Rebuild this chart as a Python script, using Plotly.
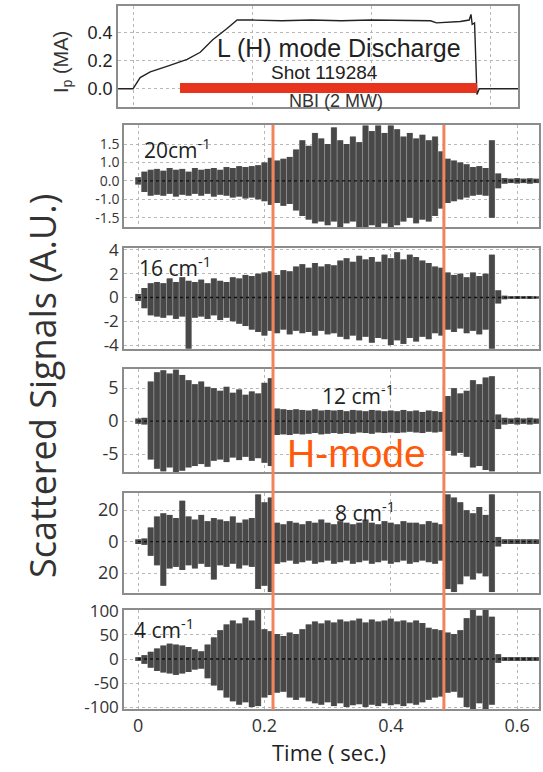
import plotly.graph_objects as go

# ---------------- data ----------------
TIME = [0.00, 0.01, 0.02, 0.03, 0.04, 0.05, 0.06, 0.07, 0.08, 0.09,
        0.10, 0.11, 0.12, 0.13, 0.14, 0.15, 0.16, 0.17, 0.18, 0.19,
        0.20, 0.21, 0.22, 0.23, 0.24, 0.25, 0.26, 0.27, 0.28, 0.29,
        0.30, 0.31, 0.32, 0.33, 0.34, 0.35, 0.36, 0.37, 0.38, 0.39,
        0.40, 0.41, 0.42, 0.43, 0.44, 0.45, 0.46, 0.47, 0.48, 0.49,
        0.50, 0.51, 0.52, 0.53, 0.54, 0.55, 0.56, 0.57, 0.58, 0.59,
        0.60, 0.61, 0.62, 0.63]

# plasma current (MA)
IP_T = [-0.025, 0.0, 0.012, 0.029, 0.057, 0.091, 0.113, 0.134, 0.158, 0.175,
        0.20, 0.25, 0.30, 0.35, 0.40, 0.45, 0.50, 0.51, 0.53, 0.55,
        0.565, 0.568, 0.570, 0.574, 0.578, 0.582, 0.60, 0.647]
IP_V = [0.0, 0.0, 0.08, 0.12, 0.16, 0.21, 0.26, 0.35, 0.43, 0.49,
        0.49, 0.485, 0.49, 0.485, 0.49, 0.485, 0.485, 0.47, 0.475, 0.48,
        0.49, 0.53, 0.46, 0.47, -0.04, 0.0, 0.0, 0.0]
NBI_T = [0.079, 0.578]
NBI_V = [0.005, 0.005]

# scattered signal envelopes (upper / lower), one value per TIME
K20_UP = [0.2, 0.5, 0.6, 0.65, 0.55, 0.7, 0.6, 0.65, 0.5, 0.7,
          0.6, 0.65, 0.7, 0.6, 0.75, 0.7, 0.8, 0.75, 0.8, 0.85,
          1.0, 1.25, 1.1, 1.2, 1.3, 1.7, 2.2, 1.9, 2.6, 2.3,
          2.0, 2.9, 2.2, 2.0, 2.4, 2.1, 3.0, 2.7, 3.0, 2.6,
          3.0, 2.8, 2.4, 2.6, 2.3, 2.5, 2.2, 2.4, 1.6, 1.2,
          1.1, 1.0, 0.9, 0.75, 0.8, 0.7, 2.2, 0.4, 0.15, 0.12,
          0.15, 0.12, 0.14, 0.12]
K20_LO = [-0.2, -0.6, -0.8, -0.75, -0.8, -0.7, -0.85, -0.75, -0.8, -0.7,
          -0.8, -0.7, -0.85, -0.75, -0.8, -0.9, -0.85, -0.95, -0.9, -1.0,
          -1.1, -1.3, -1.2, -1.35, -1.25, -1.6, -1.9, -2.1, -2.3, -2.2,
          -2.4, -2.2, -2.5, -2.3, -2.2, -2.5, -2.5, -2.4, -2.5, -2.3,
          -2.5, -2.4, -2.2, -2.0, -2.3, -2.1, -2.2, -1.9, -1.5, -1.2,
          -1.1, -1.0, -0.9, -0.8, -0.75, -0.8, -2.0, -0.4, -0.15, -0.12,
          -0.14, -0.12, -0.15, -0.12]

K16_UP = [0.3, 0.8, 1.2, 1.3, 1.2, 1.6, 1.3, 1.7, 1.4, 1.3,
          1.5, 1.2, 1.6, 1.4, 1.3, 1.7, 1.6, 1.9, 1.8, 2.0,
          2.1, 2.2, 1.9, 2.3, 2.2, 2.6, 2.8, 2.5, 2.9, 2.6,
          2.8, 2.7, 3.1, 3.3, 3.0, 3.5, 3.2, 3.4, 3.0, 3.6,
          3.3, 3.8, 3.2, 3.6, 3.4, 3.1, 2.9, 2.6, 2.5, 2.1,
          1.9, 2.0, 1.7, 2.1, 1.8, 2.0, 3.6, 0.6, 0.15, 0.1,
          0.12, 0.1, 0.12, 0.1]
K16_LO = [-0.3, -0.9, -1.5, -1.6, -1.7, -1.5, -1.8, -1.6, -4.3, -1.7,
          -1.6, -1.8, -1.5, -1.9, -1.7, -2.0, -2.2, -2.4, -2.7, -2.9,
          -3.2, -2.8, -3.0, -2.7, -3.1, -2.8, -3.0, -2.9, -3.2, -2.8,
          -3.1, -3.0, -3.3, -3.5, -3.2, -3.6, -3.3, -3.8, -3.4, -3.5,
          -4.0, -3.6, -3.9, -3.4, -3.7, -3.3, -3.5, -3.0, -3.2, -2.7,
          -2.9, -2.6, -3.0, -2.8, -3.1, -2.7, -4.3, -0.5, -0.15, -0.1,
          -0.12, -0.1, -0.12, -0.1]

K12_UP = [0.4, 0.5, 6.0, 7.4, 7.7, 7.2, 7.8, 7.0, 6.2, 5.6,
          6.0, 5.2, 5.0, 4.6, 5.2, 4.3, 4.8, 4.0, 4.5, 4.2,
          5.8, 6.5, 1.9, 1.8, 1.7, 1.8, 1.7, 1.6, 1.8, 1.6,
          1.7, 1.6, 1.7, 1.5, 1.7, 1.6, 1.5, 1.7, 1.6, 1.5,
          1.6, 1.5, 1.7, 1.5, 1.6, 1.4, 1.6, 1.5, 1.4, 3.8,
          5.0, 4.2, 4.6, 6.2, 5.6, 6.6, 6.8, 1.0, 0.5, 0.4,
          0.5, 0.4, 0.5, 0.4]
K12_LO = [-0.4, -0.5, -5.8, -7.2, -7.6, -7.0, -7.7, -7.5, -7.0, -6.8,
          -6.5, -6.9, -6.0, -5.8, -6.2, -5.5, -5.9, -5.4, -6.0, -5.6,
          -6.3, -6.8, -2.1, -2.0, -2.1, -1.9, -2.0, -1.9, -1.8, -2.0,
          -1.9, -1.8, -1.9, -1.8, -1.9, -1.7, -1.8, -1.9, -1.7, -1.8,
          -1.7, -1.8, -1.7, -1.6, -1.7, -1.8, -1.6, -1.7, -1.6, -4.5,
          -5.2, -4.8, -5.4, -7.0, -6.8, -7.4, -7.6, -1.2, -0.5, -0.4,
          -0.5, -0.4, -0.5, -0.4]

K8_UP = [1.5, 2, 9, 16, 18, 17, 15, 26, 16, 14,
         17, 13, 15, 14, 13, 16, 12, 14, 15, 30,
         25, 28, 12, 11, 13, 12, 11, 13, 12, 14,
         12, 11, 13, 12, 11, 12, 14, 12, 11, 13,
         12, 11, 13, 12, 12, 11, 13, 12, 11, 30,
         28, 25, 20, 18, 22, 17, 30, 3, 1.5, 1.5,
         1.5, 1.5, 1.5, 1.5]
K8_LO = [-1.5, -2, -9, -15, -28, -17, -16, -18, -15, -17,
         -14, -16, -24, -15, -16, -14, -17, -15, -16, -30,
         -28, -32, -14, -13, -12, -14, -13, -12, -14, -13,
         -12, -14, -13, -12, -14, -13, -12, -14, -13, -12,
         -14, -13, -12, -14, -13, -12, -13, -14, -12, -30,
         -32, -27, -22, -24, -20, -22, -32, -3, -1.5, -1.5,
         -1.5, -1.5, -1.5, -1.5]

K4_UP = [4, 8, 15, 22, 28, 32, 30, 28, 25, 20,
         16, 30, 45, 60, 72, 80, 74, 86, 80, 102,
         62, 58, 52, 48, 55, 52, 62, 72, 78, 74,
         80, 76, 82, 78, 80, 84, 76, 82, 78, 80,
         84, 78, 80, 76, 80, 75, 65, 62, 60, 55,
         52, 60, 85, 102, 90, 102, 88, 10, 4, 4,
         4, 4, 4, 4]
K4_LO = [-4, -10, -18, -25, -28, -30, -33, -30, -27, -22,
         -20, -40, -55, -65, -80, -88, -95, -90, -100, -98,
         -80, -75, -70, -68, -80, -85, -80, -88, -92, -95,
         -90, -98, -92, -100, -96, -94, -100, -95, -98, -92,
         -96, -94, -98, -92, -95, -90, -85, -80, -78, -70,
         -68, -80, -100, -104, -92, -104, -95, -8, -4, -4,
         -4, -4, -4, -4]

PANEL_LABELS = ["20cm<sup>-1</sup>", "16 cm<sup>-1</sup>", "12 cm<sup>-1</sup>",
                "8 cm<sup>-1</sup>", "4 cm<sup>-1</sup>"]
Y_TICKVALS = [[-2, -1, 0, 1, 2], [-4, -2, 0, 2, 4], [-5, 0, 5], [-20, 0, 20],
              [-100, -50, 0, 50, 100]]
Y_TICKTEXT = [["-1.5", "-1.0", "0.0", "1.0", "1.5"], ["-4", "-2", "0", "2", "4"],
              ["-5", "0", "5"], ["20", "0", "20"], ["-100", "-50", "0", "50", "100"]]
IP_TICKVALS = [0.0, 0.2, 0.4]
IP_TICKTEXT = ["0.0", "0.2", "0.4"]
X_TICKVALS = [0, 0.2, 0.4, 0.6]
X_TICKTEXT = ["0", "0.2", "0.4", "0.6"]
HMODE_T = [0.2136, 0.484]

SIGNALS = [(K20_UP, K20_LO), (K16_UP, K16_LO), (K12_UP, K12_LO),
           (K8_UP, K8_LO), (K4_UP, K4_LO)]

# ---------------- layout geometry ----------------
W, H = 543, 772
def px(x):
    return x / W
def py(y):
    return 1 - y / H

PANEL_PX = [(125, 227), (248, 349), (369, 472), (493, 593), (610, 709)]
Y_RANGES = [[-2.5, 3.03], [-4.33, 4.16], [-7.7, 7.9], [-32.6, 30.9], [-104, 102]]
Y_FONTSIZES = [14, 17, 18, 18, 17]
LABEL_POS = [(142, 148), (137, 266), (320, 394), (333, 511), (132, 628)]

SIG_FONT = "Open Sans, Lato, sans-serif"
ARIAL = "Liberation Sans, Arial, sans-serif"
FRAME = "#8c8c8c"
GRID = "#b8b8b8"

fig = go.Figure()

# top panel: plasma current + NBI
fig.add_trace(go.Scatter(x=IP_T, y=IP_V, mode="lines", xaxis="x", yaxis="y",
                         line=dict(color="#222222", width=1.4), hoverinfo="skip"))
fig.add_trace(go.Scatter(x=NBI_T, y=NBI_V, mode="lines", xaxis="x", yaxis="y",
                         line=dict(color="#E8341C", width=10), hoverinfo="skip"))

for k, (up, lo) in enumerate(SIGNALS):
    xa, ya = f"x{k+2}", f"y{k+2}"
    # light envelope underneath (shows through as the pale stripes)
    fig.add_trace(go.Scatter(x=TIME, y=up, mode="lines", xaxis=xa, yaxis=ya,
                             line=dict(width=0, shape="hvh"), hoverinfo="skip"))
    fig.add_trace(go.Scatter(x=TIME, y=lo, mode="lines", xaxis=xa, yaxis=ya,
                             fill="tonexty", fillcolor="#a0a0a0",
                             line=dict(width=0, shape="hvh"), hoverinfo="skip"))
    # dark vertical strokes, one per sample
    sx, sy = [], []
    for t, u, l in zip(TIME, up, lo):
        sx += [t, t, None]
        sy += [l, u, None]
    fig.add_trace(go.Scatter(x=sx, y=sy, mode="lines", xaxis=xa, yaxis=ya,
                             line=dict(color="#484848", width=5.6),
                             hoverinfo="skip", connectgaps=False))
    fig.add_trace(go.Scatter(x=[TIME[0], TIME[-1]], y=[0, 0], mode="lines",
                             xaxis=xa, yaxis=ya,
                             line=dict(color="#111111", width=1.3, dash="dot"),
                             hoverinfo="skip"))

common = dict(showline=True, mirror=True, linecolor=FRAME, linewidth=1.5,
              zeroline=False, showgrid=True, gridcolor=GRID, griddash="dot",
              gridwidth=1, ticks="")

layout = dict(
    width=W, height=H, margin=dict(l=0, r=0, t=0, b=0, autoexpand=False),
    paper_bgcolor="white", plot_bgcolor="white", showlegend=False,
)
layout["xaxis"] = dict(domain=[px(118), px(518)], range=[-0.0252, 0.647],
                       anchor="y", tickvals=X_TICKVALS, showticklabels=False, **common)
layout["yaxis"] = dict(domain=[py(107), py(6)], range=[-0.13, 0.59], anchor="x",
                       tickvals=IP_TICKVALS, ticktext=IP_TICKTEXT,
                       tickfont=dict(family=ARIAL, size=18, color="#222222"), **common)

for k in range(5):
    top, bot = PANEL_PX[k]
    layout[f"xaxis{k+2}"] = dict(domain=[px(124), px(539)], range=[-0.0222, 0.6345],
                                 anchor=f"y{k+2}", tickvals=X_TICKVALS,
                                 ticktext=X_TICKTEXT, showticklabels=(k == 4),
                                 tickfont=dict(family=SIG_FONT, size=18, color="#333333"),
                                 **common)
    layout[f"yaxis{k+2}"] = dict(domain=[py(bot), py(top)], range=Y_RANGES[k],
                                 anchor=f"x{k+2}", tickvals=Y_TICKVALS[k],
                                 ticktext=Y_TICKTEXT[k],
                                 tickfont=dict(family=SIG_FONT, size=Y_FONTSIZES[k],
                                               color="#333333"),
                                 **common)

fig.update_layout(**layout)

def note(x, y, text, family, size, color, xanchor="center", angle=0):
    return dict(x=px(x), y=py(y), xref="paper", yref="paper", text=text,
                showarrow=False, xanchor=xanchor, yanchor="middle", textangle=angle,
                font=dict(family=family, size=size, color=color))

ann = []
for k, lab in enumerate(PANEL_LABELS):
    x, y = LABEL_POS[k]
    ann.append(note(x, y, lab, SIG_FONT, 21, "#222222", xanchor="left"))
ann += [
    note(339, 48, "L (H) mode Discharge", ARIAL, 25, "#222222"),
    note(324, 72, "Shot 119284", ARIAL, 19, "#222222"),
    note(336, 101, "NBI (2 MW)", ARIAL, 18, "#333333"),
    note(63, 62, "I<sub>p</sub> (MA)", ARIAL, 20, "#333333", angle=-90),
    note(42, 386, "Scattered Signals (A.U.)", SIG_FONT, 36, "#333333", angle=-90),
    note(356, 453, "H-mode", ARIAL, 39, "#FF5A0A"),
    note(329, 752, "Time ( sec.)", SIG_FONT, 22, "#222222"),
]
fig.update_layout(annotations=ann)

shapes = []
for t in HMODE_T:
    shapes.append(dict(type="line", xref="x6", yref="paper", x0=t, x1=t,
                       y0=py(710), y1=py(125), layer="above",
                       line=dict(color="#F2845C", width=3)))
fig.update_layout(shapes=shapes)

fig.write_html("out.html", config={"displayModeBar": False})
